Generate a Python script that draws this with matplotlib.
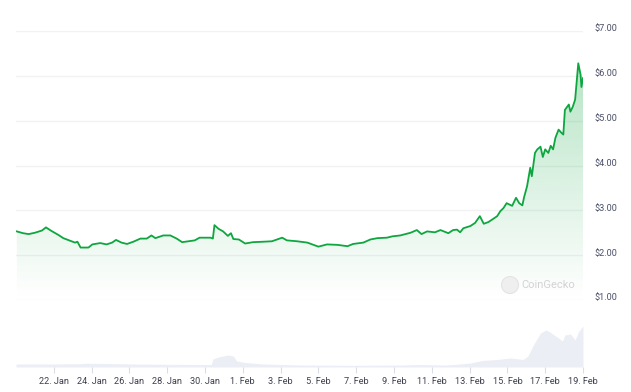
# Price chart with volume strip (CoinGecko style)

import numpy
import pandas
import matplotlib
matplotlib.use("Agg")
import matplotlib.pyplot as plt
import matplotlib.dates as mdates
import matplotlib.transforms as mtrans
from matplotlib.patches import Circle

start = pandas.Timestamp("2025-01-20 00:00")

# price: hours since start, USD
price_hours = [1, 9, 16, 24, 33, 38, 45, 54, 60, 69, 75, 78, 82, 92, 97, 107, 115, 122,
               127, 134, 141, 149, 158, 166, 172, 177, 187, 196, 204, 211, 219, 227, 233,
               247, 250, 252, 257, 263, 269, 273, 276, 283, 291, 301, 314, 325, 338, 344,
               357, 370, 384, 395, 408, 421, 428, 441, 450, 459, 471, 478, 488, 501, 509,
               515, 522, 532, 539, 549, 555, 560, 564, 568, 577, 583, 589, 594, 600, 606,
               611, 615, 619, 623, 630, 635, 639, 643, 645, 649, 653, 655, 659, 662, 666,
               669, 672, 676, 679, 682, 685, 689, 692, 695, 697, 702, 704, 707, 710, 714,
               717, 718, 720]
price_usd = [2.53, 2.49, 2.47, 2.50, 2.55, 2.62, 2.54, 2.45, 2.38, 2.32, 2.28, 2.30, 2.17,
             2.17, 2.24, 2.27, 2.24, 2.28, 2.34, 2.28, 2.25, 2.30, 2.37, 2.37, 2.44, 2.38,
             2.44, 2.44, 2.37, 2.29, 2.31, 2.33, 2.39, 2.39, 2.37, 2.67, 2.59, 2.53, 2.43,
             2.49, 2.36, 2.35, 2.26, 2.29, 2.30, 2.31, 2.39, 2.33, 2.31, 2.28, 2.19, 2.24,
             2.23, 2.20, 2.25, 2.28, 2.35, 2.38, 2.39, 2.42, 2.44, 2.50, 2.56, 2.47, 2.53,
             2.51, 2.56, 2.49, 2.56, 2.57, 2.51, 2.60, 2.65, 2.72, 2.87, 2.70, 2.74, 2.81,
             2.87, 2.98, 3.05, 3.16, 3.10, 3.28, 3.16, 3.11, 3.28, 3.54, 3.95, 3.76, 4.28,
             4.36, 4.42, 4.19, 4.36, 4.28, 4.44, 4.36, 4.62, 4.80, 4.74, 4.69, 5.24, 5.36,
             5.20, 5.31, 5.47, 6.28, 6.02, 5.75, 5.95]

# volume: hours since start, million USD
vol_hours = [0, 43, 81, 90, 170, 234, 248, 250, 257, 269, 276, 280, 291, 314, 361, 424,
             488, 513, 545, 564, 577, 592, 611, 628, 644, 650, 657, 666, 673, 678, 687,
             694, 697, 704, 710, 714, 720]
vol_musd = [30, 30, 33, 37, 28, 25, 25, 80, 100, 120, 110, 60, 45, 30, 20, 17,
            20, 25, 20, 30, 40, 65, 75, 90, 75, 110, 220, 340, 370, 350, 300,
            260, 320, 330, 270, 350, 410]

price_ticks = [1, 2, 3, 4, 5, 6, 7]
date_ticks = pandas.date_range("2025-01-22", "2025-02-19", freq="2D")

px = mdates.date2num(start + pandas.to_timedelta(price_hours, unit="h"))
py = numpy.array(price_usd)
vx = mdates.date2num(start + pandas.to_timedelta(vol_hours, unit="h"))
vy = numpy.array(vol_musd)

W, H = 631, 392
fig = plt.figure(figsize=(W / 100, H / 100), dpi=100)
left, right = 16 / W, 583 / W

ax = fig.add_axes([left, 1 - 300 / H, right - left, 269 / H])
axv = fig.add_axes([left, 1 - 367 / H, right - left, 67 / H])

xmin, xmax = mdates.date2num(start), px[-1]
line_col = "#0ea63f"

# price line with fading green fill
ax.plot(px, py, color=line_col, lw=1.3, zorder=3, solid_joinstyle="round")
poly = ax.fill_between(px, py, 1, color="none", lw=0)
grad = numpy.linspace(0.0, 0.34, 256).reshape(-1, 1)
rgba = numpy.zeros((256, 1, 4))
rgba[..., 0], rgba[..., 1], rgba[..., 2] = 14 / 255, 166 / 255, 63 / 255
rgba[..., 3] = grad
img = ax.imshow(rgba, aspect="auto", origin="lower", extent=[xmin, xmax, 1, 7], zorder=2)
img.set_clip_path(poly.get_paths()[0], transform=ax.transData)

ax.set_xlim(xmin, xmax)
ax.set_ylim(1, 7)
ax.set_yticks(price_ticks)
ax.set_yticklabels(["$%.2f" % v for v in price_ticks])
ax.yaxis.tick_right()
ax.tick_params(axis="y", length=0, pad=8, labelsize=6.6, labelcolor="#4b5068")
ax.set_xticks([])
ax.grid(axis="y", color="#f2f2f4", lw=1.0, zorder=0)
for s in ax.spines.values():
    s.set_visible(False)
off = mtrans.ScaledTranslation(0, 3 / 100, fig.dpi_scale_trans)
for lab in ax.get_yticklabels():
    lab.set_transform(lab.get_transform() + off)
    lab.set_family("Roboto")

# volume strip
axv.fill_between(vx, vy, 0, color="#eceef5", lw=0)
axv.set_xlim(xmin, xmax)
axv.set_ylim(0, 670)
axv.set_yticks([])
axv.set_xticks(mdates.date2num(date_ticks))
axv.xaxis.set_major_formatter(mdates.DateFormatter("%-d. %b"))
axv.tick_params(axis="x", length=4, width=0.8, color="#dcdee6", pad=3,
                labelsize=6.6, labelcolor="#3d3f4c")
for lab in axv.get_xticklabels():
    lab.set_family("Roboto")
for s in axv.spines.values():
    s.set_visible(False)

# watermark
fig.patches.append(Circle((510 / 100, (H - 285) / 100), 0.085, transform=fig.dpi_scale_trans,
                          facecolor="#efefef", edgecolor="#e4e4e4", lw=0.8))
fig.text(521 / W, 1 - 285 / H, "CoinGecko", color="#d2d2d2", fontsize=8,
         family="Roboto", va="center", ha="left")

fig.savefig("out.png", dpi=100)
